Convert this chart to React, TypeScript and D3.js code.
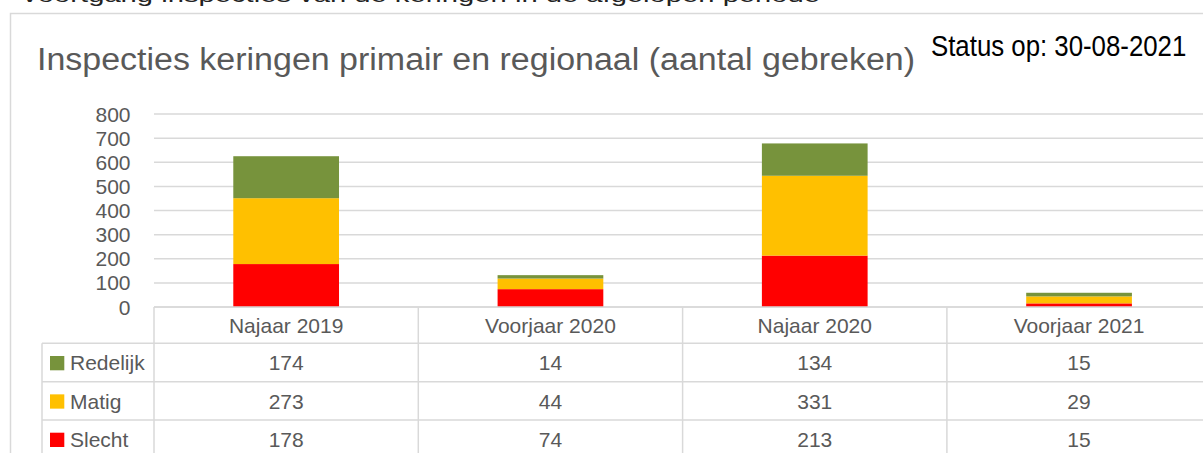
import React from "react";
import * as d3 from "d3";

const categories = ["Najaar 2019", "Voorjaar 2020", "Najaar 2020", "Voorjaar 2021"];
const slecht = [178, 74, 213, 15];
const matig = [273, 44, 331, 29];
const redelijk = [174, 14, 134, 15];
const yTicks = [0, 100, 200, 300, 400, 500, 600, 700, 800];

const seriesDefs = [
  { key: "Slecht", values: slecht, color: "#FF0000" },
  { key: "Matig", values: matig, color: "#FFC000" },
  { key: "Redelijk", values: redelijk, color: "#77933C" },
];

const W = 1203;
const H = 453;
const FONT = "'Liberation Sans', Arial, sans-serif";
const GRID = "#d9d9d9";
const TXT = "#595959";

export default function App() {
  const plotLeft = 154;
  const colW = 264.3;
  const x = d3
    .scaleBand<string>()
    .domain(categories)
    .range([plotLeft, plotLeft + colW * categories.length])
    .paddingInner(0.6)
    .paddingOuter(0.3);
  const y = d3.scaleLinear().domain([0, 800]).range([307, 114]);

  const rows = categories.map((c, i) => {
    const r: any = { cat: c };
    seriesDefs.forEach((s) => (r[s.key] = s.values[i]));
    return r;
  });
  const stacked = d3.stack<any>().keys(seriesDefs.map((s) => s.key))(rows);

  const colStart = (i: number) => plotLeft + i * x.step();
  const tableRows = [...seriesDefs].reverse();
  const headerTop = y(0);
  const rowTop0 = 343.3;
  const rowH = 38.35;
  const legendLeft = 42;

  return (
    <svg
      width={W}
      height={H}
      style={{ position: "absolute", left: 0, top: 0, background: "#fff" }}
      fontFamily={FONT}
    >
      <rect x={0} y={0} width={W} height={H} fill="#fff" />
      {/* caption text cropped at the very top, as in the reference */}
      <text x={20} y={2} fontSize={20} fill="#222" textLength={800} lengthAdjust="spacingAndGlyphs">
        Voortgang inspecties van de keringen in de afgelopen periode
      </text>
      {/* chart frame */}
      <rect x={10.5} y={13.5} width={1400} height={600} fill="#fff" stroke={GRID} strokeWidth={1.5} />

      <text x={37} y={70} fontSize={31} fill={TXT} textLength={878} lengthAdjust="spacingAndGlyphs">
        Inspecties keringen primair en regionaal (aantal gebreken)
      </text>
      <text transform="translate(931,56) scale(0.89,1)" fontSize={29} fill="#000">
        Status op: 30-08-2021
      </text>

      {/* gridlines */}
      {yTicks.map((t) => (
        <line key={"g" + t} x1={plotLeft} x2={W + 10} y1={y(t)} y2={y(t)} stroke={GRID} strokeWidth={1.5} />
      ))}
      {/* y tick labels */}
      {yTicks.map((t) => (
        <text key={"t" + t} x={130.5} y={y(t) + 7.5} fontSize={21} fill={TXT} textAnchor="end">
          {t}
        </text>
      ))}

      {/* bars */}
      {stacked.map((layer, li) => (
        <g key={layer.key} fill={seriesDefs[li].color}>
          {layer.map((d, i) => (
            <rect
              key={i}
              x={x(categories[i]) as number}
              width={x.bandwidth()}
              y={y(d[1])}
              height={y(d[0]) - y(d[1])}
            />
          ))}
        </g>
      ))}

      {/* data table */}
      <g stroke={GRID} strokeWidth={1.5}>
        <line x1={plotLeft} x2={W + 10} y1={headerTop} y2={headerTop} />
        {tableRows.map((s, ri) => (
          <line key={"h" + ri} x1={legendLeft} x2={W + 10} y1={rowTop0 + ri * rowH} y2={rowTop0 + ri * rowH} />
        ))}
        <line x1={legendLeft} x2={legendLeft} y1={rowTop0} y2={H + 10} />
        {categories.map((c, i) => (
          <line key={"v" + i} x1={colStart(i)} x2={colStart(i)} y1={headerTop} y2={H + 10} />
        ))}
      </g>
      {categories.map((c, i) => (
        <text
          key={"c" + i}
          x={(x(c) as number) + x.bandwidth() / 2}
          y={332.5}
          fontSize={21}
          fill={TXT}
          textAnchor="middle"
        >
          {c}
        </text>
      ))}
      {tableRows.map((s, ri) => (
        <g key={"r" + s.key}>
          <rect x={50} y={rowTop0 + ri * rowH + 12.7} width={14.3} height={14.3} fill={s.color} />
          <text x={70} y={rowTop0 + ri * rowH + 27} fontSize={21} fill={TXT}>
            {s.key}
          </text>
          {s.values.map((v, i) => (
            <text
              key={i}
              x={(x(categories[i]) as number) + x.bandwidth() / 2}
              y={rowTop0 + ri * rowH + 27}
              fontSize={21}
              fill={TXT}
              textAnchor="middle"
            >
              {v}
            </text>
          ))}
        </g>
      ))}
    </svg>
  );
}
